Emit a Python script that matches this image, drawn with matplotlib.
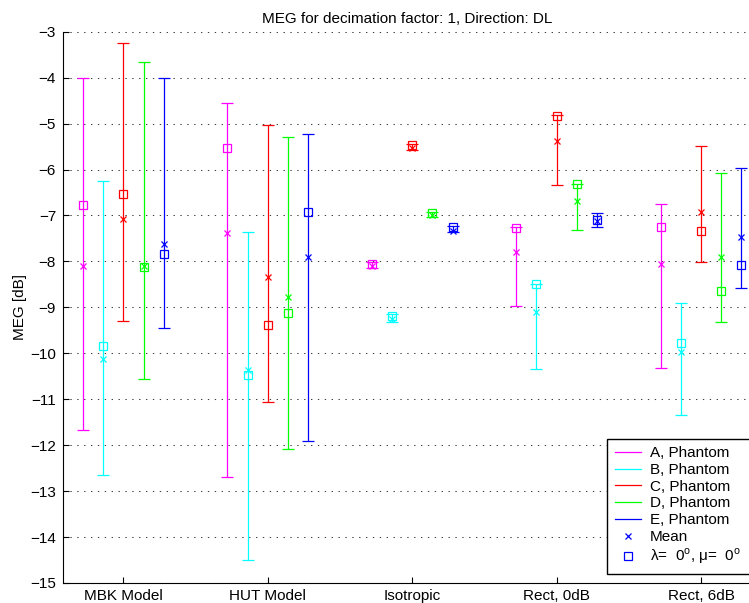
import matplotlib
matplotlib.use('Agg')
import matplotlib.pyplot as plt
from matplotlib.lines import Line2D
import numpy as np

plt.rcParams['font.family'] = ['Liberation Sans', 'DejaVu Sans']
plt.rcParams['font.size'] = 11

# groups on the x axis
groups = ['MBK Model', 'HUT Model', 'Isotropic', 'Rect, 0dB', 'Rect, 6dB']
series = ['A, Phantom', 'B, Phantom', 'C, Phantom', 'D, Phantom', 'E, Phantom']
colors = ['#ff00ff', '#00ffff', '#ff0000', '#00ff00', '#0000ff']

# mean (x marker), value at lambda=0, mu=0 (square), and error bar ends; rows = series A..E
mean_db = [[-8.10, -7.38, -8.10, -7.80, -8.05],
           [-10.12, -10.37, -9.25, -9.10, -9.97],
           [-7.07, -8.35, -5.54, -5.38, -6.93],
           [-8.10, -8.77, -7.00, -6.69, -7.90],
           [-7.63, -7.90, -7.33, -7.13, -7.46]]
zero_db = [[-6.77, -5.54, -8.05, -7.27, -7.25],
           [-9.85, -10.47, -9.18, -8.50, -9.78],
           [-6.54, -9.39, -5.47, -4.83, -7.34],
           [-8.13, -9.12, -6.95, -6.31, -8.64],
           [-7.84, -6.93, -7.26, -7.10, -8.07]]
low_db = [[-11.68, -12.69, -8.15, -8.96, -10.31],
          [-12.66, -14.51, -9.32, -10.35, -11.34],
          [-9.29, -11.05, -5.58, -6.34, -8.02],
          [-10.56, -12.09, -7.03, -7.31, -9.31],
          [-9.45, -11.92, -7.37, -7.26, -8.58]]
high_db = [[-4.00, -4.56, -8.02, -7.26, -6.76],
           [-6.26, -7.35, -9.15, -8.49, -8.90],
           [-3.24, -5.02, -5.45, -4.82, -5.49],
           [-3.65, -5.29, -6.93, -6.31, -6.08],
           [-4.00, -5.23, -7.24, -6.95, -5.96]]

fig = plt.figure(figsize=(7.49, 6.03), dpi=100)
ax = fig.add_axes([63/749, 20/603, 689/749, 551.3/603])

x = np.arange(1, len(groups) + 1)
offsets = [-0.28, -0.14, 0.0, 0.14, 0.28]

for i in range(len(series)):
    xs = x + offsets[i]
    m = np.array(mean_db[i])
    lo = np.array(low_db[i])
    hi = np.array(high_db[i])
    ax.errorbar(xs, m, yerr=[m - lo, hi - m], fmt='none', ecolor=colors[i],
                elinewidth=0.9, capsize=4, capthick=0.9)
for i in range(len(series)):
    xs = x + offsets[i]
    ax.plot(xs, mean_db[i], 'x', color=colors[i], ms=4.5, mew=0.9)
    ax.plot(xs, zero_db[i], 's', color=colors[i], mfc='none', ms=6, mew=0.9)

ax.set_xlim(0.581, 5.353)
ax.set_ylim(-15, -3)
ax.set_yticks(np.arange(-15, -2, 1))
ax.set_xticks(x)
ax.set_xticklabels(groups)
ax.tick_params(direction='in', length=4, width=0.8)
ax.tick_params(axis='y', pad=5)
ax.tick_params(axis='x', pad=4)
ax.spines['top'].set_visible(False)
ax.spines['right'].set_visible(False)
ax.yaxis.grid(True, linestyle=(0, (1.3, 5.3)), linewidth=0.75, color='0.25')
ax.set_axisbelow(True)

ax.set_ylabel('MEG [dB]', labelpad=2)
ax.set_title('MEG for decimation factor: 1, Direction: DL', fontsize=11, pad=6)

handles = [Line2D([], [], color=c, lw=0.9) for c in colors]
handles.append(Line2D([], [], color='#0000ff', marker='x', ls='none', ms=4.5, mew=0.9))
handles.append(Line2D([], [], color='#0000ff', marker='s', mfc='none', ls='none', ms=6, mew=0.9))
labels = series + ['Mean', r'λ=  0$^{\mathregular{o}}$, μ=  0$^{\mathregular{o}}$']
leg = ax.legend(handles, labels, loc='lower left', mode='expand',
                bbox_to_anchor=((607 - 63) / 689, (583 - 574) / 551.3,
                                (775 - 607) / 689, 0.1),
                fancybox=False, framealpha=1, edgecolor='black',
                handlelength=1.7, handletextpad=0.6, labelspacing=0.18,
                borderpad=0.5, borderaxespad=0, fontsize=11)
leg.get_frame().set_linewidth(1.0)
leg.set_clip_on(False)

fig.savefig('out.png', dpi=100)
